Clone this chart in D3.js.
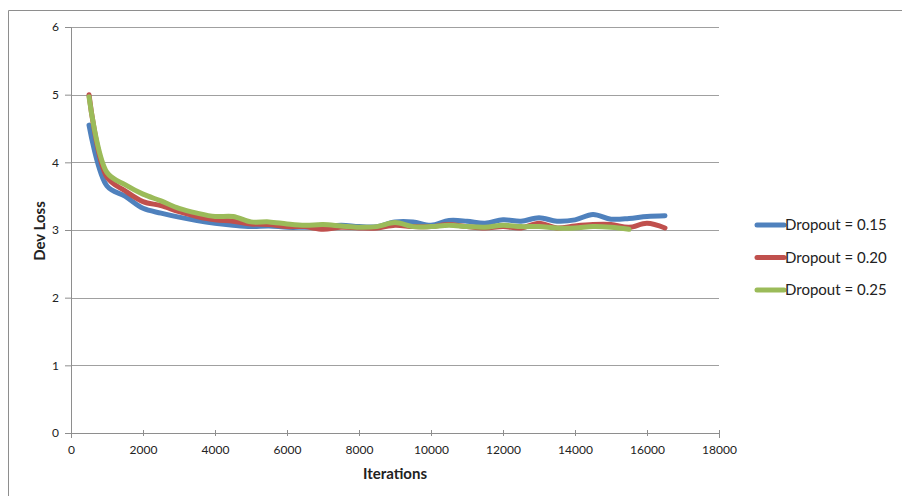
<!DOCTYPE html>
<html>
<head>
<meta charset="utf-8">
<script src="https://cdn.jsdelivr.net/npm/d3@7"></script>
<style>
  body { margin: 0; background: #fff; }
  text { font-family: Lato, "Open Sans", sans-serif; fill: #222; }
</style>
</head>
<body>
<div class="chart"></div>
<script>
// data
const iterations = [500,1000,1500,2000,2500,3000,3500,4000,4500,5000,5500,6000,6500,7000,7500,8000,
  8500,9000,9500,10000,10500,11000,11500,12000,12500,13000,13500,14000,14500,15000,15500,16000,16500];
const drop15 = [4.55,3.65,3.5,3.32,3.25,3.19,3.14,3.10,3.07,3.05,3.06,3.04,3.04,3.04,3.07,3.05,
  3.05,3.12,3.12,3.07,3.14,3.13,3.10,3.15,3.13,3.18,3.13,3.15,3.23,3.16,3.17,3.20,3.21];
const drop20 = [5.0,3.78,3.58,3.42,3.36,3.27,3.2,3.15,3.13,3.09,3.08,3.05,3.05,3.01,3.04,3.03,
  3.03,3.07,3.05,3.05,3.08,3.05,3.03,3.05,3.03,3.1,3.03,3.06,3.08,3.08,3.04,3.10,3.03];
const drop25 = [4.97,3.85,3.67,3.53,3.43,3.32,3.25,3.2,3.2,3.12,3.12,3.09,3.07,3.08,3.06,3.04,
  3.05,3.11,3.05,3.05,3.07,3.05,3.04,3.07,3.05,3.05,3.03,3.03,3.05,3.04,3.01];
const seriesNames = ["Dropout = 0.15", "Dropout = 0.20", "Dropout = 0.25"];
const seriesValues = [drop15, drop20, drop25];
const colors = ["#4f81bd", "#c0504d", "#9bbb59"];
const xTicks = [0,2000,4000,6000,8000,10000,12000,14000,16000,18000];
const yTicks = [0,1,2,3,4,5,6];

const W = 902, H = 496;
const margin = {top: 27, right: 183, bottom: 63, left: 71};
const w = W - margin.left - margin.right;
const h = H - margin.top - margin.bottom;

const root = d3.select(".chart").append("svg")
  .attr("width", W).attr("height", H);

// outer chart frame
root.append("path")
  .attr("d", "M8.5,496 V10.5 H902")
  .attr("fill", "none").attr("stroke", "#8e8e8e");

const svg = root.append("g")
  .attr("transform", "translate(" + margin.left + "," + margin.top + ")");

const x = d3.scaleLinear().domain([0, 18000]).range([0, w]);
const y = d3.scaleLinear().domain([0, 6]).range([h, 0]);

// gridlines
svg.append("g").selectAll("line")
  .data(yTicks.filter(d => d > 0))
  .join("line")
  .attr("x1", 0).attr("x2", w)
  .attr("y1", d => Math.round(y(d)) + 0.5).attr("y2", d => Math.round(y(d)) + 0.5)
  .attr("stroke", "#a0a0a0");

// axes
const yAxis = d3.axisLeft(y).tickValues(yTicks).tickFormat(d3.format("d")).tickSize(6).tickPadding(6);
const xAxis = d3.axisBottom(x).tickValues(xTicks).tickFormat(d3.format("d")).tickSize(5).tickPadding(7);

const yg = svg.append("g").call(yAxis);
const xg = svg.append("g").attr("transform", `translate(0,${h})`).call(xAxis);
xg.selectAll(".tick line").attr("y1", -3).attr("y2", 3);
[yg, xg].forEach(g => {
  g.select(".domain").attr("stroke", "#8e8e8e");
  g.selectAll(".tick line").attr("stroke", "#8e8e8e");
  g.selectAll("text").style("font-size", "12px").style("fill", "#222");
});

// lines
const line = d3.line()
  .x((d, i) => x(iterations[i]))
  .y(d => y(d))
  .curve(d3.curveCatmullRom.alpha(0.5));

svg.selectAll(".series")
  .data(seriesValues)
  .join("path")
  .attr("class", "series")
  .attr("d", d => line(d))
  .attr("fill", "none")
  .attr("stroke", (d, i) => colors[i])
  .attr("stroke-width", 5)
  .attr("stroke-linecap", "round")
  .attr("stroke-linejoin", "round");

// axis titles
root.append("text")
  .attr("x", 395).attr("y", 479)
  .attr("text-anchor", "middle")
  .style("font-weight", "bold").style("font-size", "15px")
  .text("Iterations");

root.append("text")
  .attr("transform", "translate(45,231) rotate(-90)")
  .attr("text-anchor", "middle")
  .style("font-weight", "bold").style("font-size", "15px")
  .text("Dev Loss");

// legend
const legend = root.append("g").attr("transform", "translate(757,225)");
const items = legend.selectAll("g")
  .data(seriesNames)
  .join("g")
  .attr("transform", (d, i) => `translate(0,${i * 32.5})`);
items.append("line")
  .attr("x1", 0).attr("x2", 27)
  .attr("stroke", (d, i) => colors[i])
  .attr("stroke-width", 5)
  .attr("stroke-linecap", "round");
items.append("text")
  .attr("x", 28).attr("dy", "0.35em")
  .style("font-size", "15px")
  .text(d => d);
</script>
</body>
</html>
